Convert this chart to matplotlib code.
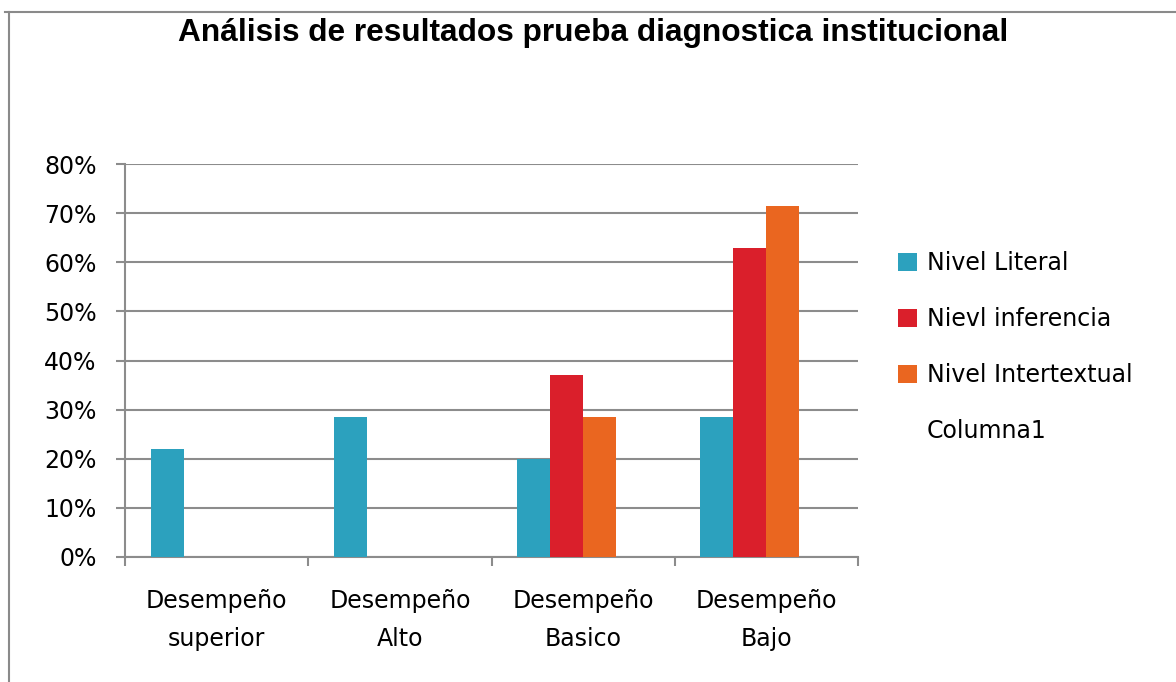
import numpy as np
import matplotlib
matplotlib.use("Agg")
import matplotlib.pyplot as plt
from matplotlib.lines import Line2D

categories = ["Desempeño\nsuperior", "Desempeño\nAlto", "Desempeño\nBasico", "Desempeño\nBajo"]
series_names = ["Nivel Literal", "Nievl inferencia", "Nivel Intertextual", "Columna1"]
nivel_literal = [22.0, 28.6, 20.0, 28.6]
nivel_inferencia = [0.0, 0.0, 37.1, 62.9]
nivel_intertextual = [0.0, 0.0, 28.6, 71.4]
columna1 = [0.0, 0.0, 0.0, 0.0]
yticks = [0, 10, 20, 30, 40, 50, 60, 70, 80]

COLORS = ["#2CA1BE", "#DA1F2B", "#EA6620", "none"]
GRID = "#8c8c8c"

plt.rcParams["font.family"] = ["DejaVu Sans"]

fig = plt.figure(figsize=(11.76, 6.82), dpi=100)
ax = fig.add_axes([0.1063, 0.1833, 0.6233, 0.5762])

x = np.arange(len(categories))
width = 0.18
offsets = [-0.27, -0.09, 0.09, 0.27]
all_series = [nivel_literal, nivel_inferencia, nivel_intertextual, columna1]
handles = []
for vals, name, col, off in zip(all_series, series_names, COLORS, offsets):
    b = ax.bar(x + off, vals, width, color=col, label=name, zorder=3,
               edgecolor="none")
    handles.append(b)

ax.set_xlim(-0.5, len(categories) - 0.5)
ax.set_ylim(0, 80)
ax.set_yticks(yticks)
ax.set_yticklabels([f"{v}%" for v in yticks])
ax.yaxis.grid(True, color=GRID, linewidth=1.5, zorder=0)
ax.set_axisbelow(True)

# category boundaries as ticks, labels on minor ticks
ax.set_xticks(np.arange(-0.5, len(categories), 1.0))
ax.set_xticklabels([])
ax.set_xticks(x, minor=True)
ax.set_xticklabels(categories, minor=True, linespacing=1.72)
ax.tick_params(axis="x", which="minor", length=0, pad=23, labelsize=17)
ax.tick_params(axis="x", which="major", length=6.5, width=1.5, color=GRID)
ax.tick_params(axis="y", length=6.5, width=1.5, color=GRID, pad=14, labelsize=17)

for s in ["top", "right"]:
    ax.spines[s].set_visible(False)
for s in ["left", "bottom"]:
    ax.spines[s].set_color(GRID)
    ax.spines[s].set_linewidth(1.5)

fig.text(0.504, 0.952, "Análisis de resultados prueba diagnostica institucional",
         ha="center", va="center", fontsize=22.8, fontweight="bold",
         family=["Liberation Sans", "DejaVu Sans"])

fig.legend(handles=handles, labels=series_names, loc="center left",
           bbox_to_anchor=(0.764, 0.491), frameon=False, fontsize=17,
           handlelength=0.8, handleheight=0.8, handletextpad=0.4,
           labelspacing=1.35, borderpad=0, borderaxespad=0)

# outer chart frame (only top and left edges visible)
fig.add_artist(Line2D([5 / 1176, 1.0], [1 - 12 / 682, 1 - 12 / 682],
                      color="#8a8a8a", linewidth=1.5, transform=fig.transFigure))
fig.add_artist(Line2D([9 / 1176, 9 / 1176], [0.0, 1 - 12 / 682],
                      color="#8a8a8a", linewidth=1.5, transform=fig.transFigure))

fig.savefig("out.png", dpi=100, facecolor="white")
